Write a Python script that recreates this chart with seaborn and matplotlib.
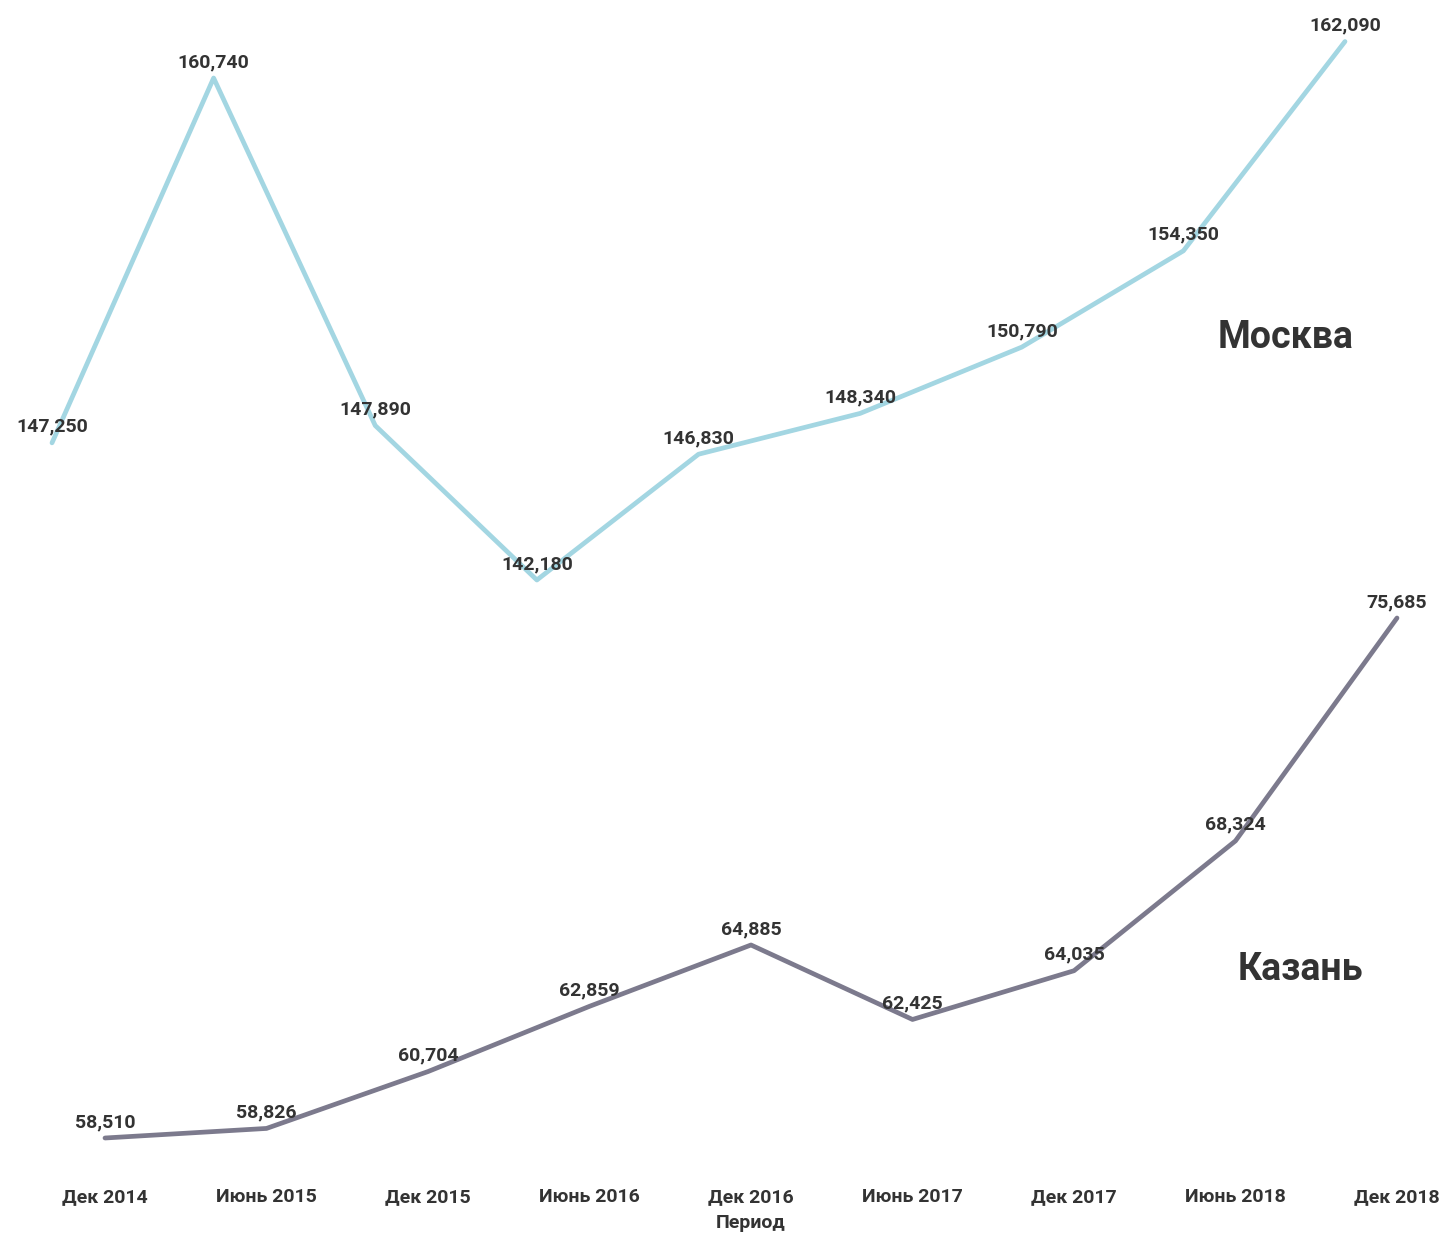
import matplotlib
matplotlib.use("Agg")
import matplotlib.pyplot as plt
import seaborn as sns
import pandas as pd

# data
periods = ["Дек 2014", "Июнь 2015", "Дек 2015", "Июнь 2016", "Дек 2016",
           "Июнь 2017", "Дек 2017", "Июнь 2018", "Дек 2018"]
moscow = [147250, 160740, 147890, 142180, 146830, 148340, 150790, 154350, 162090]
kazan = [58510, 58826, 60704, 62859, 64885, 62425, 64035, 68324, 75685]

sns.set_theme(style="white")
plt.rcParams['font.family'] = ['Roboto', 'DejaVu Sans']
plt.rcParams['font.weight'] = 'bold'

W, H = 1449, 1235
fig = plt.figure(figsize=(W / 100, H / 100), dpi=100)
fig.patch.set_facecolor("white")

text_col = "#333333"
moscow_col = "#a3d6e2"
kazan_col = "#7c7a8d"


def px_axes(x0, x1, y_top, y_bot):
    # axes placed in pixel coords of the reference
    return fig.add_axes([x0 / W, 1 - y_bot / H, (x1 - x0) / W, (y_bot - y_top) / H])


def draw(ax, values, color, top_pt, bot_pt):
    df = pd.DataFrame({"i": range(len(values)), "v": values})
    sns.lineplot(data=df, x="i", y="v", ax=ax, color=color, linewidth=3.4,
                 clip_on=False)
    ax.set_xlim(0, len(values) - 1)
    ax.set_ylim(bot_pt, top_pt)
    for i, v in enumerate(values):
        ax.annotate(f"{v:,}", (i, v), xytext=(0, 5), textcoords="offset points",
                    ha="center", va="bottom", fontsize=14, fontweight="bold",
                    color=text_col, zorder=5)
    ax.set_facecolor("none")
    for s in ax.spines.values():
        s.set_visible(False)
    ax.set_yticks([])
    ax.set_ylabel("")


ax_m = px_axes(52, 1345, 41.5, 580)
draw(ax_m, moscow, moscow_col, max(moscow), min(moscow))
ax_m.set_xticks([])
ax_m.set_xlabel("")

ax_k = px_axes(105, 1397, 618, 1138)
draw(ax_k, kazan, kazan_col, max(kazan), min(kazan))
ax_k.set_xticks(range(len(periods)))
ax_k.set_xticklabels(periods, fontsize=14, fontweight="bold", color=text_col)
ax_k.tick_params(axis="x", length=0, pad=36)
ax_k.set_xlabel("Период", fontsize=14, fontweight="bold", color=text_col, labelpad=6)

fig.text(1286 / W, 1 - 338 / H, "Москва", ha="center", va="center",
         fontsize=27, fontweight="bold", color=text_col)
fig.text(1300 / W, 1 - 969 / H, "Казань", ha="center", va="center",
         fontsize=27, fontweight="bold", color=text_col)

fig.savefig("out.png", dpi=100, facecolor="white")
